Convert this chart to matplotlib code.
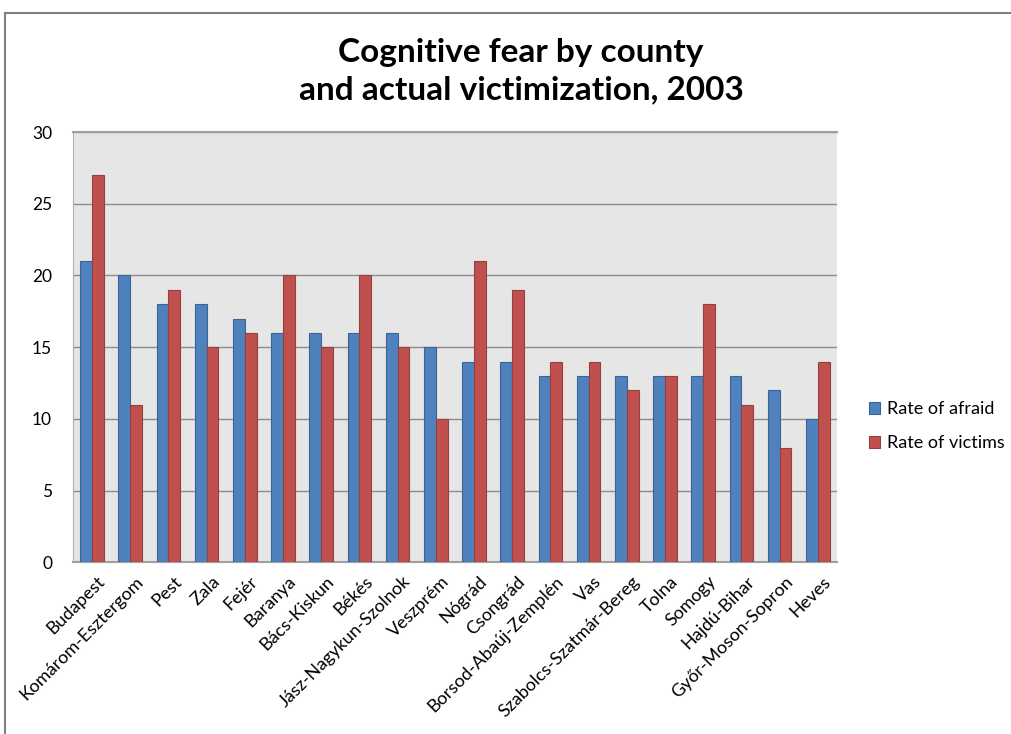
import matplotlib.pyplot as plt
import matplotlib.transforms as mtransforms
import numpy as np

plt.rcParams['font.family'] = ['Lato', 'DejaVu Sans']

counties = ['Budapest', 'Komárom-Esztergom', 'Pest', 'Zala', 'Fejér', 'Baranya',
            'Bács-Kiskun', 'Békés', 'Jász-Nagykun-Szolnok', 'Veszprém', 'Nógrád',
            'Csongrád', 'Borsod-Abaúj-Zemplén', 'Vas', 'Szabolcs-Szatmár-Bereg',
            'Tolna', 'Somogy', 'Hajdú-Bihar', 'Győr-Moson-Sopron', 'Heves']
afraid = [21, 20, 18, 18, 17, 16, 16, 16, 16, 15, 14, 14, 13, 13, 13, 13, 13, 13, 12, 10]
victims = [27, 11, 19, 15, 16, 20, 15, 20, 15, 10, 21, 19, 14, 14, 12, 13, 18, 11, 8, 14]

fig = plt.figure(figsize=(10.12, 7.34), dpi=100)
ax = fig.add_axes([0.072, 0.234, 0.755, 0.586])

x = np.arange(len(counties))
w = 0.31
ax.bar(x - w / 2, afraid, w, color='#4F81BD', edgecolor='#3A6496', linewidth=0.8,
       label='Rate of afraid', zorder=3)
ax.bar(x + w / 2, victims, w, color='#C0504D', edgecolor='#94403D', linewidth=0.8,
       label='Rate of victims', zorder=3)

ax.set_facecolor('#E6E6E6')
ax.set_xlim(-0.5, len(counties) - 0.5)
ax.set_ylim(0, 30)
ax.set_yticks(range(0, 31, 5))
ax.yaxis.grid(True, color='#8C8C8C', linewidth=1, zorder=0)
ax.tick_params(axis='y', length=0, labelsize=12.5, pad=15)
ax.tick_params(axis='x', length=0, labelsize=13, pad=8)
ax.set_xticks(x)
ax.set_xticklabels(counties, rotation=45, ha='right', rotation_mode='anchor')
shift = mtransforms.ScaledTranslation(5 / 100, 0, fig.dpi_scale_trans)
for lbl in ax.get_xticklabels():
    lbl.set_transform(lbl.get_transform() + shift)

ax.spines['right'].set_visible(False)
ax.spines['left'].set_color('#B0B0B0')
ax.spines['top'].set_color('#A0A0A0')
ax.spines['top'].set_linewidth(1.5)
ax.spines['bottom'].set_color('#A0A0A0')
ax.spines['bottom'].set_linewidth(1.5)

fig.text(0.515, 0.903, 'Cognitive fear by county\nand actual victimization, 2003',
         ha='center', va='center', fontsize=24, fontweight='bold', linespacing=1.35)

ax.legend(loc='center left', bbox_to_anchor=(1.021, 0.316), frameon=False,
          fontsize=13, handlelength=0.6, handleheight=0.6, labelspacing=1.0,
          handletextpad=0.4)

# chart frame (top and left edges)
fig.add_artist(plt.Line2D([0.005, 0.005], [0, 0.982], color='#808080', lw=1.5))
fig.add_artist(plt.Line2D([0.005, 1], [0.982, 0.982], color='#808080', lw=1.5))

fig.savefig('out.png', dpi=100)
